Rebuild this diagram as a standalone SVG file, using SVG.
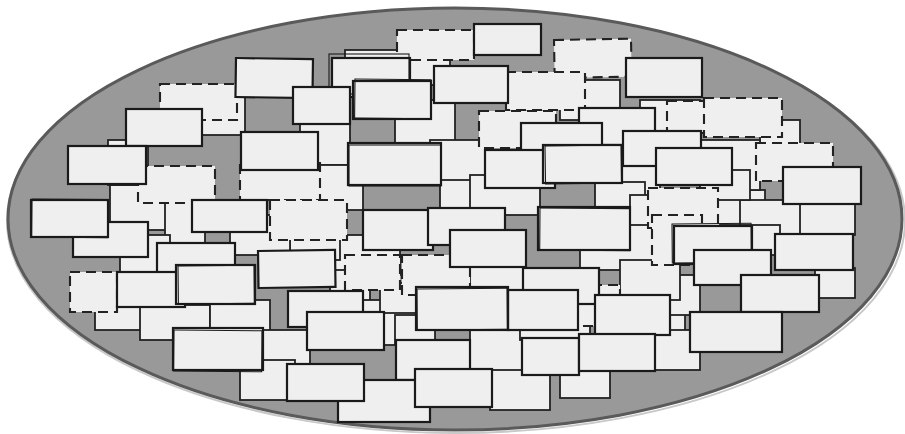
<svg xmlns="http://www.w3.org/2000/svg" width="905" height="434" viewBox="0 0 905 434">
<style>
.bg{fill:#ffffff}
.ell{fill:#999999;stroke:#5a5a5a;stroke-width:3}
.sh{fill:none;stroke:#c8c8c8;stroke-width:2}
.f{fill:#efefef;stroke:#222;stroke-width:1.8}
.d{fill:#efefef;stroke:#222;stroke-width:2.1;stroke-dasharray:10 6}
.b{fill:#efefef;stroke:#1a1a1a;stroke-width:2.2}
.s{fill:none;stroke:#1a1a1a;stroke-width:1.1}
</style>
<rect class="bg" x="0" y="0" width="905" height="434"/>
<ellipse class="sh" cx="456" cy="221" rx="449" ry="212"/>
<ellipse class="ell" cx="455" cy="219" rx="447" ry="211"/>
<g id="back">
<rect class="f" x="110" y="185" width="60" height="45"/>
<rect class="f" x="165" y="195" width="40" height="50"/>
<rect class="f" x="200" y="95" width="45" height="40"/>
<rect class="f" x="300" y="120" width="50" height="45"/>
<rect class="f" x="318" y="165" width="45" height="45"/>
<rect class="f" x="395" y="100" width="60" height="45"/>
<rect class="f" x="430" y="140" width="60" height="45"/>
<rect class="f" x="440" y="180" width="50" height="35"/>
<rect class="f" x="470" y="175" width="70" height="40"/>
<rect class="f" x="600" y="165" width="60" height="40"/>
<rect class="f" x="595" y="182" width="50" height="30"/>
<rect class="f" x="630" y="195" width="65" height="45"/>
<rect class="f" x="700" y="190" width="65" height="40"/>
<rect class="f" x="740" y="200" width="70" height="35"/>
<rect class="f" x="720" y="225" width="60" height="30"/>
<rect class="f" x="580" y="225" width="80" height="45"/>
<rect class="f" x="330" y="235" width="70" height="40"/>
<rect class="f" x="290" y="225" width="50" height="35"/>
<rect class="f" x="230" y="215" width="60" height="40"/>
<rect class="f" x="120" y="235" width="50" height="45"/>
<rect class="f" x="95" y="295" width="65" height="35"/>
<rect class="f" x="140" y="305" width="70" height="35"/>
<rect class="f" x="210" y="300" width="60" height="40"/>
<rect class="f" x="260" y="330" width="50" height="45"/>
<rect class="f" x="240" y="360" width="55" height="40"/>
<rect class="f" x="330" y="270" width="40" height="35"/>
<rect class="f" x="360" y="300" width="60" height="45"/>
<rect class="f" x="380" y="283" width="40" height="30"/>
<rect class="f" x="470" y="262" width="55" height="30"/>
<rect class="f" x="470" y="330" width="60" height="45"/>
<rect class="f" x="490" y="370" width="60" height="40"/>
<rect class="f" x="560" y="368" width="50" height="30"/>
<rect class="f" x="625" y="300" width="60" height="45"/>
<rect class="f" x="655" y="275" width="45" height="40"/>
<rect class="f" x="650" y="330" width="50" height="40"/>
<rect class="f" x="345" y="50" width="80" height="30"/>
<rect class="f" x="410" y="50" width="40" height="35"/>
<rect class="f" x="560" y="80" width="60" height="40"/>
<rect class="f" x="640" y="100" width="60" height="40"/>
<rect class="f" x="760" y="120" width="40" height="30"/>
<rect class="f" x="800" y="200" width="55" height="35"/>
<rect class="f" x="815" y="268" width="40" height="30"/>
<rect class="f" x="620" y="260" width="60" height="40"/>
<rect class="f" x="520" y="300" width="70" height="40"/>
<rect class="f" x="395" y="315" width="40" height="30"/>
<rect class="f" x="108" y="140" width="40" height="45"/>
<rect class="f" x="700" y="140" width="60" height="50"/>
<rect class="f" x="700" y="170" width="50" height="30"/>
</g>
<g id="dashed">
<rect class="d" x="397" y="30" width="77" height="30"/>
<rect class="d" x="554" y="40" width="77" height="38" transform="rotate(-1 554 40)"/>
<rect class="d" x="160" y="84" width="77" height="36"/>
<rect class="d" x="506" y="72" width="79" height="38"/>
<rect class="d" x="667" y="101" width="50" height="32"/>
<rect class="d" x="704" y="98" width="78" height="39"/>
<rect class="d" x="479" y="111" width="77" height="37"/>
<rect class="d" x="138" y="166" width="77" height="37"/>
<rect class="d" x="240" y="162" width="80" height="38"/>
<rect class="d" x="756" y="143" width="77" height="38"/>
<rect class="d" x="270" y="200" width="77" height="40"/>
<rect class="d" x="648" y="188" width="70" height="40"/>
<rect class="d" x="652" y="215" width="50" height="50"/>
<rect class="d" x="402" y="255" width="68" height="40"/>
<rect class="d" x="70" y="272" width="47" height="40"/>
<rect class="d" x="560" y="285" width="60" height="41"/>
<rect class="d" x="345" y="255" width="55" height="35"/>
</g>
<g id="mid">
<rect class="b" x="474" y="24" width="67" height="31"/>
<rect class="b" x="626" y="58" width="76" height="39"/>
<rect class="b" x="236" y="58" width="77" height="39" transform="rotate(0.8 236 58)"/>
<rect class="b" x="332" y="58" width="78" height="39"/>
<rect class="s" x="329" y="54" width="80" height="40"/>
<rect class="b" x="434" y="66" width="74" height="37"/>
<rect class="b" x="293" y="87" width="57" height="37"/>
<rect class="b" x="579" y="108" width="76" height="37"/>
<rect class="b" x="126" y="109" width="76" height="37"/>
<rect class="b" x="241" y="132" width="77" height="38"/>
<rect class="b" x="521" y="123" width="81" height="37"/>
<rect class="b" x="623" y="131" width="78" height="35"/>
<rect class="b" x="485" y="150" width="70" height="38"/>
<rect class="b" x="656" y="148" width="76" height="37"/>
<rect class="b" x="68" y="146" width="78" height="38"/>
<rect class="b" x="73" y="222" width="75" height="35"/>
<rect class="b" x="192" y="200" width="75" height="32"/>
<rect class="b" x="363" y="210" width="70" height="40"/>
<rect class="b" x="428" y="208" width="77" height="37"/>
<rect class="b" x="674" y="226" width="78" height="38"/>
<rect class="s" x="672" y="224" width="79" height="39" transform="rotate(-0.5 672 224)"/>
<rect class="b" x="157" y="243" width="78" height="37"/>
<rect class="b" x="258" y="251" width="77" height="37" transform="rotate(-0.8 258 251)"/>
<rect class="b" x="117" y="272" width="68" height="35"/>
<rect class="b" x="523" y="268" width="76" height="36"/>
<rect class="b" x="288" y="291" width="75" height="36"/>
<rect class="b" x="508" y="290" width="70" height="40"/>
<rect class="b" x="595" y="295" width="75" height="40"/>
<rect class="b" x="396" y="340" width="74" height="40"/>
<rect class="b" x="338" y="380" width="92" height="42"/>
</g>
<g id="front">
<rect class="b" x="353" y="81" width="78" height="38"/>
<rect class="s" x="355" y="79" width="76" height="39" transform="rotate(0.6 355 79)"/>
<rect class="b" x="543" y="145" width="79" height="38"/>
<rect class="s" x="545" y="146" width="76" height="38" transform="rotate(-0.8 545 146)"/>
<rect class="b" x="348" y="143" width="93" height="42"/>
<rect class="s" x="349" y="145" width="92" height="41"/>
<rect class="b" x="783" y="167" width="78" height="37"/>
<rect class="b" x="31" y="200" width="77" height="37"/>
<rect class="s" x="32" y="199" width="76" height="38" transform="rotate(0.5 32 199)"/>
<rect class="b" x="450" y="230" width="76" height="37"/>
<rect class="b" x="538" y="207" width="92" height="43"/>
<rect class="s" x="540" y="208" width="90" height="42" transform="rotate(0.4 540 208)"/>
<rect class="b" x="694" y="250" width="77" height="35"/>
<rect class="b" x="775" y="234" width="78" height="36"/>
<rect class="b" x="176" y="265" width="79" height="39"/>
<rect class="s" x="178" y="266" width="76" height="38" transform="rotate(-0.6 178 266)"/>
<rect class="b" x="741" y="275" width="78" height="37"/>
<rect class="b" x="307" y="312" width="77" height="38"/>
<rect class="b" x="416" y="287" width="92" height="43"/>
<rect class="s" x="417" y="289" width="90" height="41" transform="rotate(-0.5 417 289)"/>
<rect class="b" x="690" y="312" width="92" height="40"/>
<rect class="b" x="173" y="328" width="90" height="42"/>
<rect class="s" x="174" y="330" width="88" height="41" transform="rotate(0.5 174 330)"/>
<rect class="b" x="287" y="364" width="77" height="37"/>
<rect class="b" x="415" y="369" width="77" height="38"/>
<rect class="b" x="522" y="338" width="57" height="37"/>
<rect class="b" x="579" y="334" width="76" height="37"/>
</g>
</svg>
